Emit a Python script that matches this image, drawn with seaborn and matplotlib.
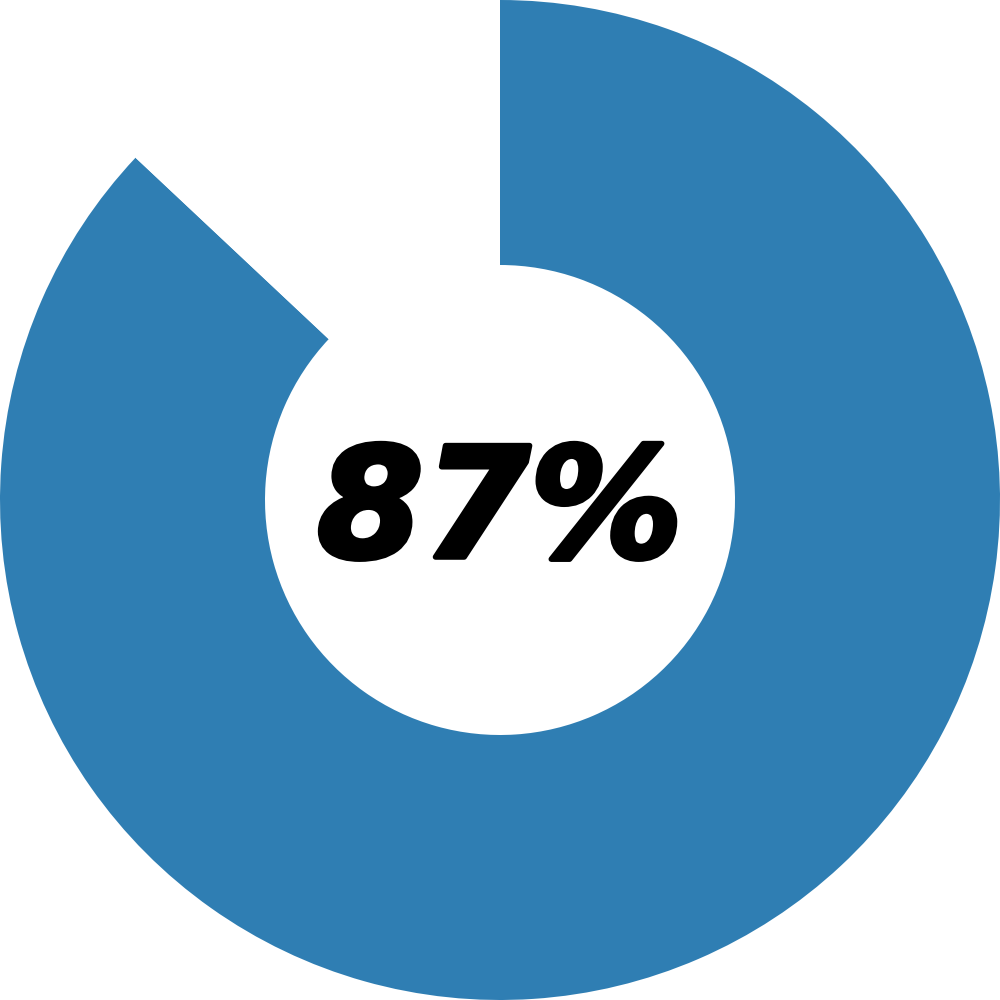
import seaborn as sns
import matplotlib.pyplot as plt
import matplotlib.patheffects as pe

# Donut data
labels = ['Done', 'Remaining']
values = [87, 13]
ring_colors = ['#2f7eb3', '#ffffff']
center_label = '87%'

sns.set_style('white')

fig = plt.figure(figsize=(10, 10), dpi=100)
ax = fig.add_axes([0, 0, 1, 1])

ax.pie(values,
       colors=ring_colors,
       startangle=90,
       counterclock=False,
       radius=1.0,
       wedgeprops={'width': 0.53, 'linewidth': 0})

# heavy italic label, baseline sits a bit below the centre
ax.text(0, -0.114, center_label,
        ha='center', va='baseline',
        fontsize=110, fontweight='bold', fontstyle='italic',
        family=['DejaVu Sans'], color='black',
        path_effects=[pe.withStroke(linewidth=4, foreground='black')])

ax.set_xlim(-1, 1)
ax.set_ylim(-1, 1)
ax.set_aspect('equal')
ax.axis('off')

fig.savefig('out.png', dpi=100, facecolor='white')
